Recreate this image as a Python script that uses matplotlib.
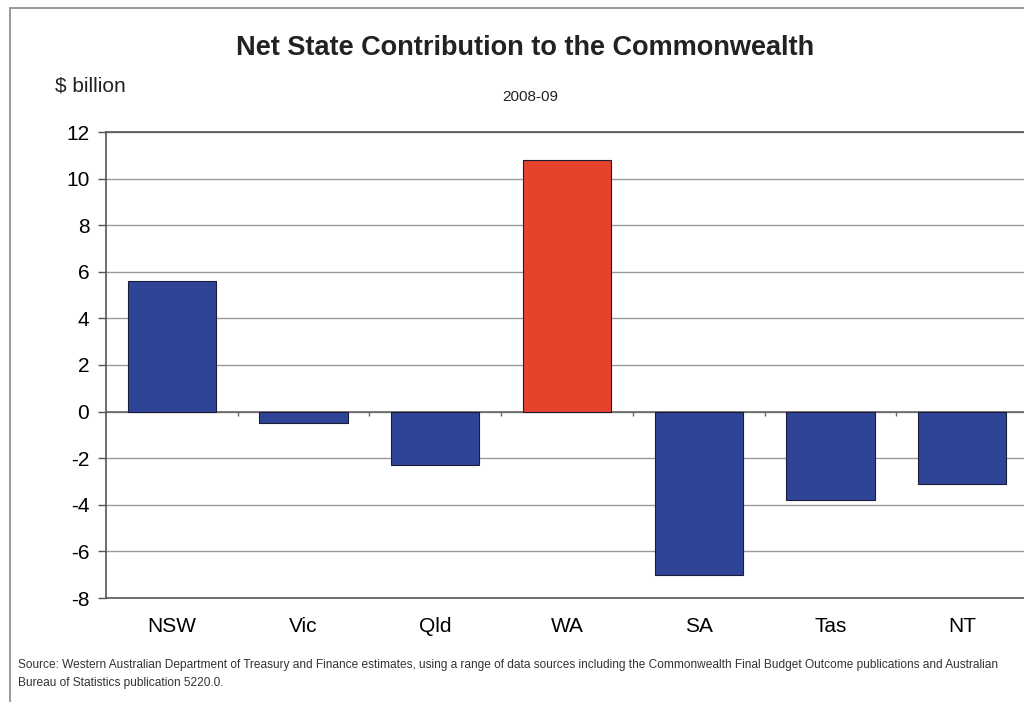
import matplotlib.pyplot as plt
from matplotlib.patches import Rectangle

plt.rcParams["font.family"] = ["Liberation Sans", "DejaVu Sans"]
plt.rcParams["axes.unicode_minus"] = False

ARQUIVO = "out.png"

estados = ["NSW", "Vic", "Qld", "WA", "SA", "Tas", "NT"]
valores = [5.6, -0.5, -2.3, 10.8, -7.0, -3.8, -3.1]
cores = ["#2E4597", "#2E4597", "#2E4597", "#E5442B", "#2E4597", "#2E4597", "#2E4597"]
y_ticks = [-8, -6, -4, -2, 0, 2, 4, 6, 8, 10, 12]

fonte_texto = ("Source: Western Australian Department of Treasury and Finance estimates, "
               "using a range of data sources including the Commonwealth Final Budget Outcome "
               "publications and Australian\nBureau of Statistics publication 5220.0.")

fig = plt.figure(figsize=(10.24, 7.02), dpi=100)
fig.patch.set_facecolor("white")

# moldura do grafico
fig.add_artist(Rectangle((10 / 1024, -0.01), 1.02, 1 - 8 / 702 + 0.01,
                         transform=fig.transFigure, fill=False,
                         edgecolor="#888888", linewidth=1.2))

ax = fig.add_axes([106 / 1024, 1 - 598 / 702, 922 / 1024, 466 / 702])
x = list(range(len(estados)))
ax.bar(x, valores, width=0.67, color=cores, edgecolor="#1c1c3a", linewidth=0.8, zorder=3)

ax.set_xlim(-0.5, len(estados) - 0.5)
ax.set_ylim(-8, 12)
ax.set_yticks(y_ticks)
ax.set_xticks(x)
ax.set_xticklabels(estados, fontsize=15)
ax.tick_params(axis="x", length=0, pad=14)
ax.tick_params(axis="y", labelsize=15, length=6, width=1, color="#555555", pad=6)
ax.grid(axis="y", color="#9a9a9a", linewidth=1, zorder=0)

ax.spines["right"].set_visible(False)
for lado in ["left", "top", "bottom"]:
    ax.spines[lado].set_color("#555555")
    ax.spines[lado].set_linewidth(1.2)

ax.axhline(0, color="#666666", linewidth=1.2, zorder=2)
ax.vlines([i + 0.5 for i in x[:-1]], -0.2, 0, color="#666666", linewidth=1, zorder=2)

fig.text(525 / 1024, 1 - 48 / 702, "Net State Contribution to the Commonwealth",
         ha="center", va="center", fontsize=19.5, fontweight="bold", color="#222222")
fig.text(55 / 1024, 1 - 86 / 702, "$ billion", ha="left", va="center", fontsize=15, color="#222222")
fig.text(530 / 1024, 1 - 97 / 702, "2008-09", ha="center", va="center", fontsize=11, color="#222222")
fig.text(18 / 1024, 1 - 674 / 702, fonte_texto, ha="left", va="center",
         fontsize=8.6, color="#333333", linespacing=1.6)

fig.savefig(ARQUIVO, dpi=100)
plt.close(fig)
